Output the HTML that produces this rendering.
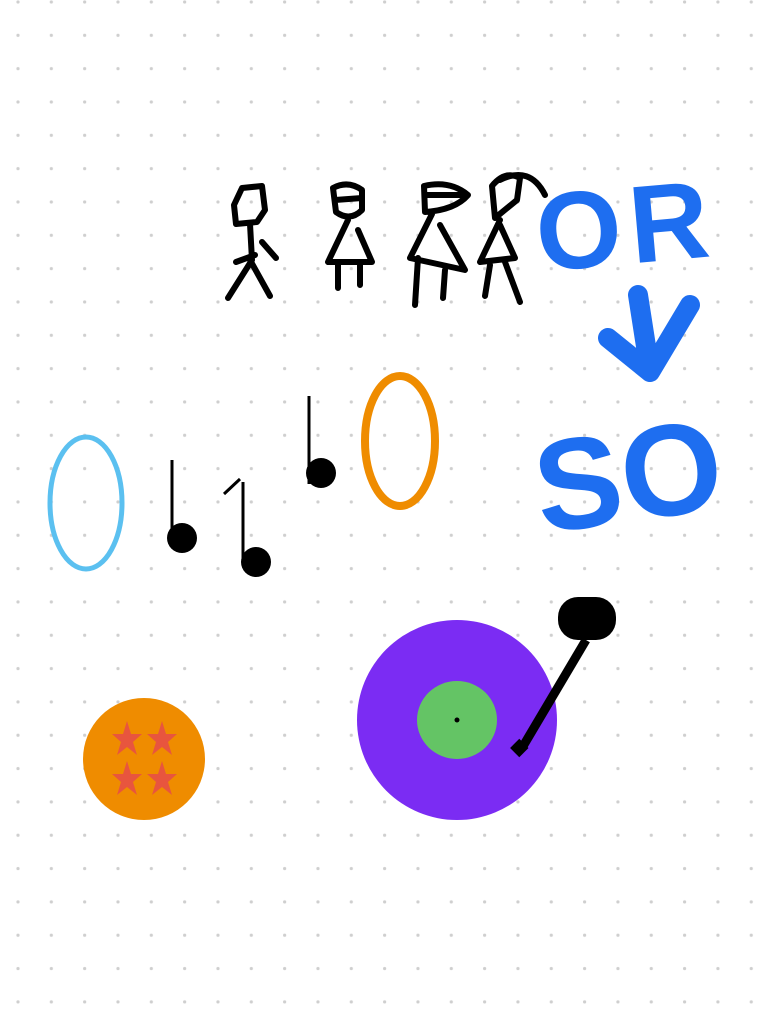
<!DOCTYPE html>
<html><head><meta charset="utf-8"><style>
html,body{margin:0;padding:0;background:#fff;}
svg{display:block;}
</style></head><body>
<svg width="770" height="1020" viewBox="0 0 770 1020">
<defs>
<pattern id="dots" x="1.5" y="2" width="33.33" height="33.33" patternUnits="userSpaceOnUse">
<circle cx="16.5" cy="0" r="1.6" fill="#cfcfcf"/><circle cx="16.5" cy="33.33" r="1.6" fill="#cfcfcf"/>
</pattern>
</defs>
<rect width="770" height="1020" fill="url(#dots)"/>

<g fill="none" stroke="#000" stroke-width="6" stroke-linecap="round" stroke-linejoin="round">
<path d="M242 188 L262 186 L265 210 L257 222 L236 224 L234 205 L242 188 M250 224 L252 260 L228 298 M250 260 L270 296 M236 262 L255 255 M262 242 L276 258"/>
<path d="M333 188 Q348 180 362 190 L362 210 Q350 222 336 212 Z M348 220 L328 262 L372 262 L358 230 M335 200 L362 198 M338 265 L338 288 M360 265 L360 285"/>
<path d="M424 186 Q450 180 468 195 Q455 210 425 212 Z M432 214 L410 258 L465 270 L440 225 M418 258 L415 305 M445 270 L443 298 M425 195 L465 195"/>
<path d="M492 186 Q505 170 520 178 L517 200 L495 218 Z M500 180 Q530 165 545 195 M500 220 L480 262 L515 258 L500 225 M490 265 L485 296 M505 262 L520 302"/>
</g>

<g fill="#1e6ef0" font-family="Liberation Sans, sans-serif" font-weight="bold">
<text x="536" y="266" font-size="110" letter-spacing="8" transform="rotate(-5 600 230)">OR</text>
<text x="532" y="522" font-size="130" transform="rotate(-8 620 460)">SO</text>
</g>
<path d="M638 295 L650 372 L690 305 M608 338 L650 372" fill="none" stroke="#1e6ef0" stroke-width="20" stroke-linecap="round" stroke-linejoin="round"/>

<ellipse cx="86" cy="503" rx="36" ry="66" fill="none" stroke="#5bc0f0" stroke-width="5"/>
<ellipse cx="400" cy="441" rx="35" ry="65" fill="none" stroke="#ef8c00" stroke-width="8"/>

<g fill="#000" stroke="#000" stroke-width="3">
<line x1="172" y1="460" x2="172" y2="535"/><circle cx="182" cy="538" r="15" stroke="none"/>
<line x1="243" y1="482" x2="243" y2="558"/><line x1="224" y1="494" x2="240" y2="479"/><circle cx="256" cy="562" r="15" stroke="none"/>
<line x1="309" y1="396" x2="309" y2="484"/><circle cx="321" cy="473" r="15" stroke="none"/>
</g>

<g>
<ellipse cx="144" cy="759" rx="61" ry="61" fill="#ef8c00"/>
<g fill="#e8553e">
<polygon points="127,721 131,734 142,734 133,742 137,755 127,747 117,755 121,742 112,734 123,734"/>
<polygon points="162,721 166,734 177,734 168,742 172,755 162,747 152,755 156,742 147,734 158,734"/>
<polygon points="127,761 131,774 142,774 133,782 137,795 127,787 117,795 121,782 112,774 123,774"/>
<polygon points="162,761 166,774 177,774 168,782 172,795 162,787 152,795 156,782 147,774 158,774"/>
</g>
</g>

<g>
<ellipse cx="457" cy="720" rx="100" ry="100" fill="#7b2cf3"/>
<ellipse cx="457" cy="720" rx="40" ry="39" fill="#64c465"/>
<circle cx="457" cy="720" r="2.5" fill="#000"/>
<line x1="586" y1="640" x2="522" y2="748" stroke="#000" stroke-width="9"/>
<rect x="513" y="742" width="13" height="13" fill="#000" transform="rotate(45 520 748)"/>
<rect x="558" y="597" width="58" height="43" rx="20" fill="#000"/>
</g>
</svg>
</body></html>
